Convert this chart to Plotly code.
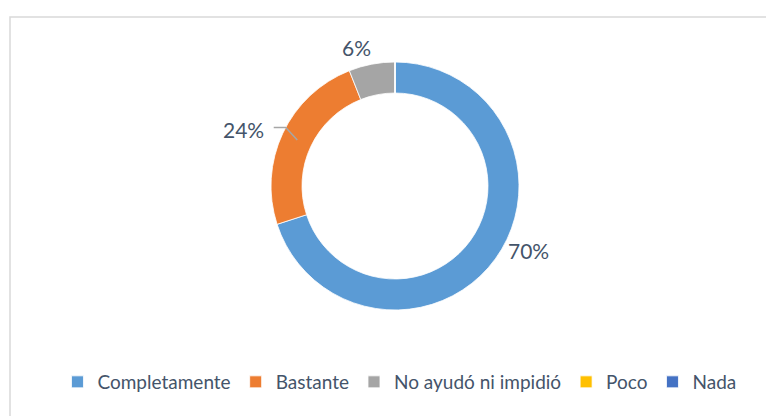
import math
import plotly.graph_objects as go

W, H = 766, 416

labels = ["Completamente", "Bastante", "No ayudó ni impidió", "Poco", "Nada"]
values = [70, 24, 6, 0, 0]
colors = ["#5B9BD5", "#ED7D31", "#A5A5A5", "#FFC000", "#4472C4"]

text_color = "#44546A"
font_family = "Lato, Open Sans, sans-serif"

# donut geometry (pixels)
cx, cy, r_out = 395, 186, 124
dom_x = [(cx - r_out) / W, (cx + r_out) / W]
dom_y = [1 - (cy + r_out) / H, 1 - (cy - r_out) / H]

fig = go.Figure(go.Pie(
    labels=labels,
    values=values,
    hole=0.75,
    sort=False,
    direction="clockwise",
    rotation=0,
    textinfo="none",
    hoverinfo="label+percent",
    marker=dict(colors=colors, line=dict(color="white", width=0.8)),
    domain=dict(x=dom_x, y=dom_y),
))

# percentage labels around the ring ("best fit" style placement)
total = sum(values)
label_r = [148, 160, 144]
label_shift = [-10, -4.5, -4.7]   # degrees
leader = [False, True, False]
lab_font = dict(size=21, color=text_color, family=font_family)

cum = 0
shapes = []
annotations = []
for i, v in enumerate(values):
    if v == 0:
        continue
    mid_deg = (cum + v / 2) / total * 360
    cum += v
    pct = f"{round(v / total * 100)}%"
    if leader[i]:
        a0 = math.radians(mid_deg)
        a1 = math.radians(mid_deg + 3)
        p0 = (cx + math.sin(a0) * 108, cy - math.cos(a0) * 108)
        p1 = (cx + math.sin(a1) * 124, cy - math.cos(a1) * 124)
        p2 = (p1[0] - 12, p1[1])
        shapes.append(dict(type="path", xref="paper", yref="paper",
                           path=(f"M {p0[0]/W},{1-p0[1]/H} L {p1[0]/W},{1-p1[1]/H} "
                                 f"L {p2[0]/W},{1-p2[1]/H}"),
                           line=dict(color="#A6A6A6", width=1.5)))
        annotations.append(dict(x=(p2[0] - 8) / W, y=1 - (p2[1] + 2) / H,
                                xref="paper", yref="paper", text=pct, showarrow=False,
                                xanchor="right", yanchor="middle", font=lab_font))
    else:
        a = math.radians(mid_deg + label_shift[i])
        lx, ly = cx + math.sin(a) * label_r[i], cy - math.cos(a) * label_r[i]
        annotations.append(dict(x=lx / W, y=1 - ly / H, xref="paper", yref="paper",
                                text=pct, showarrow=False, xanchor="center",
                                yanchor="middle", font=lab_font))

# chart area border (clipped by the window like the source)
shapes.append(dict(type="rect", xref="paper", yref="paper",
                   x0=10 / W, x1=1.05, y0=-0.05, y1=1 - 17 / H,
                   line=dict(color="#D9D9D9", width=1.5)))

fig.update_layout(
    width=W, height=H,
    margin=dict(l=0, r=0, t=0, b=0),
    paper_bgcolor="white",
    plot_bgcolor="white",
    font=dict(family=font_family, color=text_color, size=19),
    showlegend=True,
    legend=dict(orientation="h", x=0.5215, xanchor="center", y=1 - 382 / H, yanchor="middle",
                font=dict(size=19, color=text_color), itemwidth=30,
                traceorder="normal", itemclick=False),
    shapes=shapes,
    annotations=annotations,
)

fig.write_html("out.html", config={"displayModeBar": False},
               post_script="document.body.style.margin='0px';")
